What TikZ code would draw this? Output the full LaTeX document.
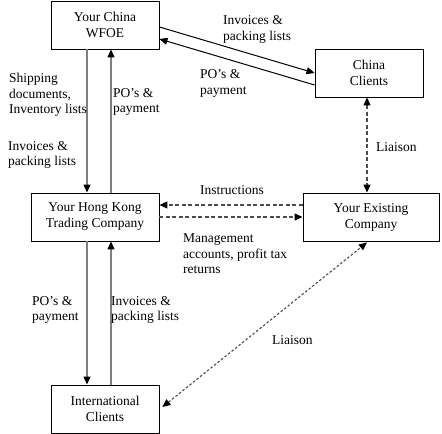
\documentclass[tikz,border=0pt]{standalone}
\usepackage{fontspec}
\setmainfont{Liberation Serif}
\usetikzlibrary{arrows.meta, calc}

\begin{document}
\begin{tikzpicture}[x=1bp, y=-1bp,
    >={Triangle[length=8bp, width=7bp, color=black]},
    box/.style={draw, line width=0.9bp, minimum width=108bp, minimum height=48bp,
        align=center, inner sep=0pt, font=\fontsize{13.5bp}{16bp}\selectfont},
    lbl/.style={anchor=west, align=left, inner sep=0pt,
        font=\fontsize{13.5bp}{15.5bp}\selectfont},
    flow/.style={->, draw=gray, line width=1.2bp},
    link/.style={->, line width=1bp},
    liaison/.style={->, draw=black!70, line width=1.1bp, dash pattern=on 4bp off 2.5bp},
    fineliaison/.style={<->, draw=black!70, line width=1.1bp, dash pattern=on 2.5bp off 2bp}]
    \useasboundingbox (0,0) rectangle (442,434);
    \def\dl{-18}    % left flow offset from box centre
    \def\dr{6}      % right flow offset from box centre
    % Draw the boxes
    \node[box] (wfoe) at (105,25) {Your China\\WFOE};
    \node[box] (china) at (369,73) {China\\Clients};
    \node[box, minimum width=128bp] (hk) at (95,217) {Your Hong Kong\\Trading Company};
    \node[box, minimum width=136bp] (exist) at (371,217) {Your Existing\\Company};
    \node[box] (intl) at (105,409) {International\\Clients};
    % Draw the flows between WFOE and Hong Kong
    \draw[flow] ($(wfoe.south)+(\dl,0)$) -- ($(hk.north)+(-8,0)$);
    \draw[flow] ($(hk.north)+(16,0)$) -- ($(wfoe.south)+(\dr,0)$);
    % Draw the flows between Hong Kong and International
    \draw[flow] ($(hk.south)+(-8,0)$) -- ($(intl.north)+(\dl,0)$);
    \draw[flow] ($(intl.north)+(\dr,0)$) -- ($(hk.south)+(16,0)$);
    % Draw the flows between WFOE and China clients
    \draw[link] ($(wfoe.east)+(0,2)$) -- (china.west);
    \draw[link] ($(china.west)+(0,12)$) -- ($(wfoe.east)+(0,14)$);
    % Draw the liaison lines
    \draw[liaison, <->] ($(china.south)+(-2,0)$) -- ($(exist.north)+(-4,0)$);
    \draw[liaison] ($(exist.west)+(0,-12)$) -- ($(hk.east)+(0,-12)$);
    \draw[liaison] (hk.east) -- (exist.west);
    \draw[fineliaison] ($(intl.east)+(3,-2)$) -- ($(exist.south)+(-4,1)$);
    % Draw the labels
    \node[lbl] (invtop) at (223,29.5) {Invoices \&\\packing lists};
    \node[lbl] (potop) at (200,83.5) {PO's \&\\payment};
    \node[lbl] (ship) at (9,95) {Shipping\\documents,\\Inventory lists};
    \node[lbl] (invleft) at (8,155) {Invoices \&\\packing lists};
    \node[lbl] (poup) at (113,102) {PO's \&\\payment};
    \node[lbl] (liaisontop) at (376,147) {Liaison};
    \node[lbl] (instr) at (200,190) {Instructions};
    \node[lbl] (mgmt) at (183,254) {Management\\accounts, profit tax\\returns};
    \node[lbl] (podown) at (32,310) {PO's \&\\payment};
    \node[lbl] (invdown) at (111,310) {Invoices \&\\packing lists};
    \node[lbl] (liaisonlow) at (272,340) {Liaison};
\end{tikzpicture}
\end{document}
